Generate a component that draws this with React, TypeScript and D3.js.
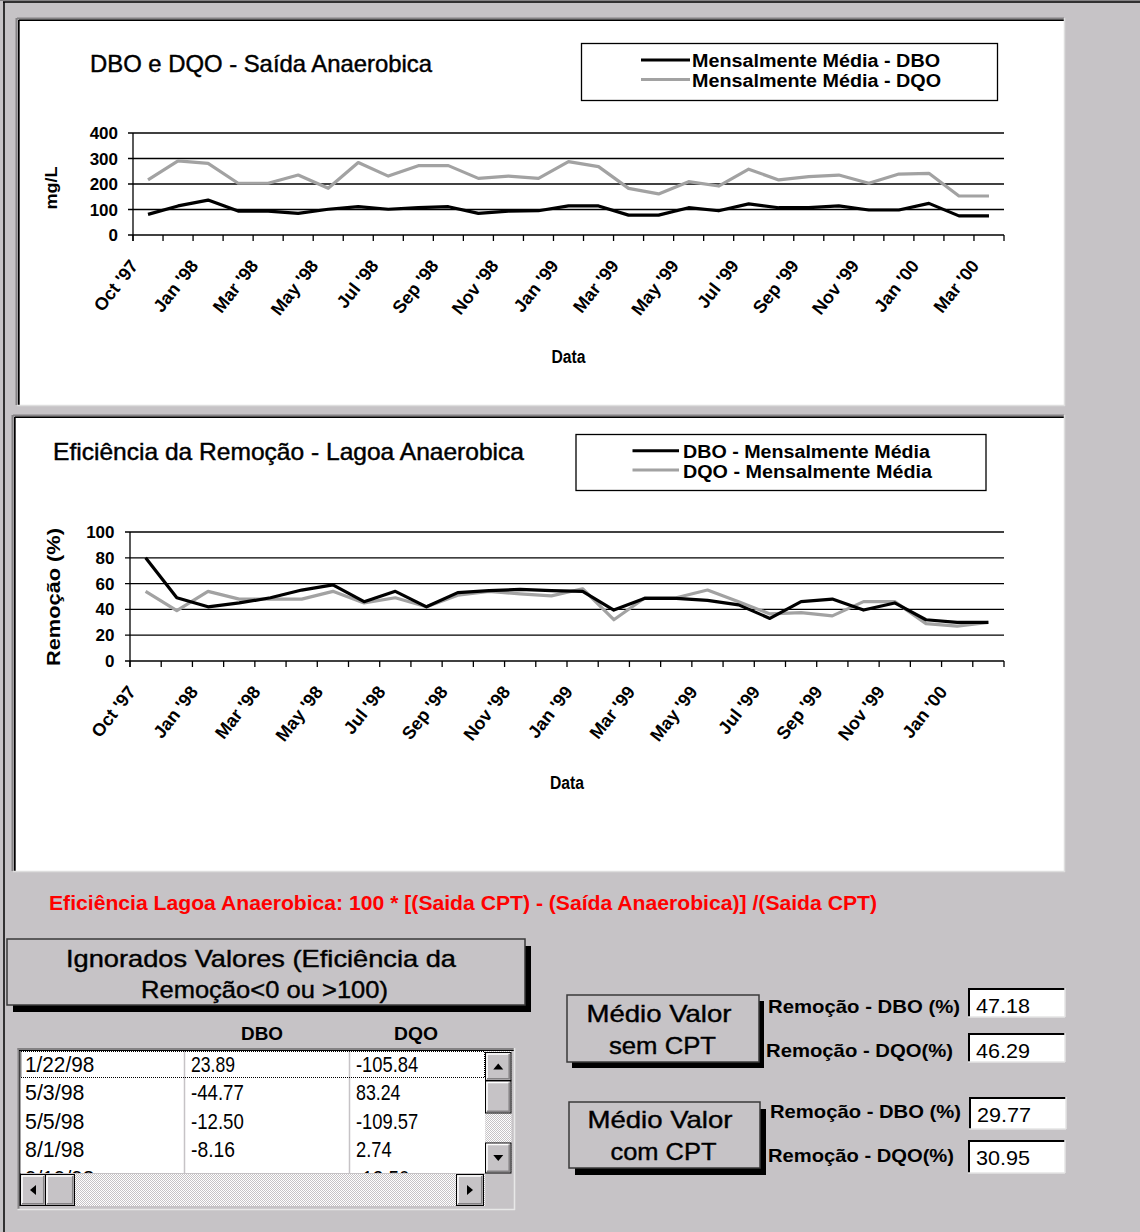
import React from "react"
import { scaleBand, scaleLinear, line } from "d3"

// categories (months), first chart has one more month than the second
const months = ["Oct '97", "Dec '97", "Jan '98", "Feb '98", "Mar '98", "Apr '98", "May '98", "Jun '98", "Jul '98", "Aug '98", "Sep '98", "Oct '98", "Nov '98", "Dec '98", "Jan '99", "Feb '99", "Mar '99", "Apr '99", "May '99", "Jun '99", "Jul '99", "Aug '99", "Sep '99", "Oct '99", "Nov '99", "Dec '99", "Jan '00", "Feb '00", "Mar '00"]
const effMonths = months.slice(0, 28)

// DBO e DQO - Saída Anaerobica (mg/L)
const saidaDbo = [81, 114, 137, 94, 94, 85, 101, 111, 101, 107, 111, 85, 94, 95, 114, 114, 78, 78, 107, 95, 122, 107, 107, 114, 98, 98, 124, 75, 75]
const saidaDqo = [216, 291, 281, 203, 203, 235, 183, 284, 231, 272, 272, 222, 231, 222, 288, 268, 183, 161, 209, 192, 258, 216, 229, 235, 203, 239, 242, 153, 153]

// Eficiência da Remoção (%)
const effDbo = [80, 49, 42, 45, 49, 55, 59, 46, 54, 42, 53, 54.5, 55.5, 54.5, 54, 39.5, 48.6, 48.6, 47, 43.5, 33, 46, 48, 39.5, 45, 32, 30, 30]
const effDqo = [54, 39, 54, 48, 48, 48, 54, 45, 49, 42, 51, 54, 52, 50.5, 56, 32, 49, 49, 55, 46, 36.5, 37.5, 35, 46, 46, 29, 27, 30]

const saidaTicks = [0, 100, 200, 300, 400]
const effTicks = [0, 20, 40, 60, 80, 100]

// ignored values table
const ignDates = ["1/22/98", "5/3/98", "5/5/98", "8/1/98", "9/19/98"]
const ignDbo = ["23.89", "-44.77", "-12.50", "-8.16", ""]
const ignDqo = ["-105.84", "83.24", "-109.57", "2.74", "-12.50"]

const mediaSem = ["47.18", "46.29"]
const mediaCom = ["29.77", "30.95"]

const BG = "#c6c3c6"
const GRAY_LINE = "#a2a2a2"
const FONT = "'Liberation Sans', Arial, sans-serif"

const Chart = ({ cats, dbo, dqo, yMax, ticks, left, right, top, bottom, yTitle, tickRight }) => {
	const x = scaleBand().domain(cats).range([left, right])
	const bw = x.bandwidth()
	const y = scaleLinear().domain([0, yMax]).range([bottom, top])
	const gen = line<number>()
		.x((d, i) => x(cats[i]) + bw / 2)
		.y(d => y(d))
	const edges = cats.map(c => x(c)).concat([right])
	return (
		<g fontFamily={FONT}>
			{ticks.map(t => (
				<g key={t}>
					<line x1={left - 5} x2={right} y1={y(t)} y2={y(t)} stroke="#000" strokeWidth={1.3} />
					<text x={tickRight} y={y(t) + 6} textAnchor="end" fontWeight="bold" fontSize={17}>{t}</text>
				</g>
			))}
			<line x1={left} x2={left} y1={top} y2={bottom + 6} stroke="#000" strokeWidth={1.3} />
			{edges.map((e, i) => (
				<line key={i} x1={e} x2={e} y1={bottom} y2={bottom + 6} stroke="#000" strokeWidth={1.3} />
			))}
			{cats.map((c, i) => i % 2 === 0 ? (
				<text key={c} transform={`translate(${x(c) + bw / 2 - 9},${bottom + 31}) rotate(-52)`} textAnchor="end" fontWeight="bold" fontSize={18}>{c}</text>
			) : null)}
			<path d={gen(dqo)} fill="none" stroke={GRAY_LINE} strokeWidth={3.2} strokeLinejoin="round" />
			<path d={gen(dbo)} fill="none" stroke="#000" strokeWidth={3.2} strokeLinejoin="round" />
			<text x={(left + right) / 2} y={bottom + 128} textAnchor="middle" fontWeight="bold" fontSize={18} textLength={34} lengthAdjust="spacingAndGlyphs">Data</text>
			{yTitle}
		</g>
	)
}

const Sunken = ({ x, y, w, h }) => (
	<g>
		<rect x={x} y={y} width={w} height={h} fill="#fff" />
		<line x1={x - 3} x2={x + w} y1={y - 2.5} y2={y - 2.5} stroke="#848284" strokeWidth={2} />
		<line x1={x - 3.5} x2={x - 3.5} y1={y - 3} y2={y + h} stroke="#848284" strokeWidth={2} />
		<line x1={x - 1} x2={x + w} y1={y - 0.8} y2={y - 0.8} stroke="#000" strokeWidth={1.6} />
		<line x1={x - 1.2} x2={x - 1.2} y1={y - 1} y2={y + h} stroke="#000" strokeWidth={1.6} />
		<line x1={x - 3} x2={x + w + 1} y1={y + h + 0.5} y2={y + h + 0.5} stroke="#dedede" strokeWidth={1.5} />
		<line x1={x + w + 0.5} x2={x + w + 0.5} y1={y - 3} y2={y + h + 1} stroke="#dedede" strokeWidth={1.5} />
	</g>
)

const ShadowButton = ({ x, y, w, h, dx, dy, lines, cx, fontSize }) => (
	<g fontFamily={FONT}>
		<rect x={x + dx} y={y + dy} width={w} height={h} fill="#000" />
		<rect x={x} y={y} width={w} height={h} fill={BG} stroke="#3a3a3a" strokeWidth={1.5} />
		{lines.map((l, i) => (
			<text key={i} x={cx + l.dx} y={l.y} textAnchor="middle" fontSize={fontSize} stroke="#000" strokeWidth={0.4} textLength={l.len} lengthAdjust="spacingAndGlyphs">{l.t}</text>
		))}
	</g>
)

const ValueBox = ({ x, y, w, h, value }) => (
	<g fontFamily={FONT}>
		<rect x={x} y={y} width={w} height={h} fill="#fff" />
		<line x1={x} x2={x + w} y1={y + 1} y2={y + 1} stroke="#000" strokeWidth={2} />
		<line x1={x + 1} x2={x + 1} y1={y} y2={y + h} stroke="#000" strokeWidth={2} />
		<line x1={x} x2={x + w} y1={y + h} y2={y + h} stroke="#e4e4e4" strokeWidth={1.5} />
		<line x1={x + w} x2={x + w} y1={y} y2={y + h} stroke="#e4e4e4" strokeWidth={1.5} />
		<text x={x + 8} y={y + 24.5} fontSize={21} textLength={value.length * 10.8} lengthAdjust="spacingAndGlyphs">{value}</text>
	</g>
)

const ScrollBtn = ({ x, y, w, h, dir }) => {
	const cx = x + w / 2
	const cy = y + h / 2
	const s = 5
	const pts = {
		up: `${cx - s},${cy + 3} ${cx + s},${cy + 3} ${cx},${cy - 3}`,
		down: `${cx - s},${cy - 3} ${cx + s},${cy - 3} ${cx},${cy + 3}`,
		left: `${cx + 3},${cy - s} ${cx + 3},${cy + s} ${cx - 3},${cy}`,
		right: `${cx - 3},${cy - s} ${cx - 3},${cy + s} ${cx + 3},${cy}`,
	}
	return (
		<g>
			<rect x={x} y={y} width={w} height={h} fill={BG} stroke="#000" strokeWidth={1} />
			<polyline points={`${x + 1.5},${y + h - 1.5} ${x + 1.5},${y + 1.5} ${x + w - 1.5},${y + 1.5}`} fill="none" stroke="#fff" strokeWidth={1.5} />
			<polyline points={`${x + 1.5},${y + h - 1.8} ${x + w - 1.8},${y + h - 1.8} ${x + w - 1.8},${y + 1.5}`} fill="none" stroke="#848284" strokeWidth={1.5} />
			{dir ? <polygon points={pts[dir]} fill="#000" /> : null}
		</g>
	)
}

export default function App() {
	const rowBase = [1071.7, 1100, 1128.5, 1157, 1185.5]
	return (
		<svg width={1140} height={1232} style={{ position: "absolute", left: 0, top: 0 }}>
			<defs>
				<pattern id="hatch" width={2} height={2} patternUnits="userSpaceOnUse">
					<rect width={2} height={2} fill="#fff" />
					<rect width={1} height={1} fill={BG} />
					<rect x={1} y={1} width={1} height={1} fill={BG} />
				</pattern>
				<clipPath id="listClip">
					<rect x={20} y={1050} width={465} height={123} />
				</clipPath>
			</defs>
			<rect width={1140} height={1232} fill={BG} />
			{/* window border */}
			<line x1={0} x2={1140} y1={0.5} y2={0.5} stroke="#848284" strokeWidth={1} />
			<line x1={3} x2={1140} y1={2} y2={2} stroke="#000" strokeWidth={1.5} />
			<line x1={4} x2={4} y1={2} y2={1232} stroke="#000" strokeWidth={1.5} />

			{/* panel 1 */}
			<Sunken x={20} y={21} w={1044} h={384} />
			<text x={90} y={72} fontFamily={FONT} fontSize={24} stroke="#000" strokeWidth={0.45} textLength={342} lengthAdjust="spacingAndGlyphs">DBO e DQO - Saída Anaerobica</text>
			<rect x={581.5} y={43.5} width={416} height={57} fill="#fff" stroke="#000" strokeWidth={1.3} />
			<line x1={641} x2={690} y1={60} y2={60} stroke="#000" strokeWidth={3} />
			<line x1={641} x2={690} y1={79.5} y2={79.5} stroke={GRAY_LINE} strokeWidth={3} />
			<text x={692} y={66.7} fontFamily={FONT} fontWeight="bold" fontSize={18} textLength={248} lengthAdjust="spacingAndGlyphs">Mensalmente Média - DBO</text>
			<text x={692} y={87.3} fontFamily={FONT} fontWeight="bold" fontSize={18} textLength={249} lengthAdjust="spacingAndGlyphs">Mensalmente Média - DQO</text>
			<Chart cats={months} dbo={saidaDbo} dqo={saidaDqo} yMax={400} ticks={saidaTicks}
				left={133} right={1004} top={133} bottom={235} tickRight={118}
				yTitle={<text transform="translate(57,188) rotate(-90)" textAnchor="middle" fontWeight="bold" fontSize={17} textLength={43} lengthAdjust="spacingAndGlyphs">mg/L</text>} />

			{/* panel 2 */}
			<Sunken x={16} y={418} w={1048} h={453} />
			<text x={53} y={460} fontFamily={FONT} fontSize={24} stroke="#000" strokeWidth={0.45} textLength={471} lengthAdjust="spacingAndGlyphs">Eficiência da Remoção - Lagoa Anaerobica</text>
			<rect x={576} y={434.5} width={410} height={56} fill="#fff" stroke="#000" strokeWidth={1.3} />
			<line x1={632.5} x2={679} y1={450.7} y2={450.7} stroke="#000" strokeWidth={3} />
			<line x1={632.5} x2={679} y1={470} y2={470} stroke={GRAY_LINE} strokeWidth={3} />
			<text x={683} y={458.3} fontFamily={FONT} fontWeight="bold" fontSize={18} textLength={247} lengthAdjust="spacingAndGlyphs">DBO - Mensalmente Média</text>
			<text x={683} y={478.3} fontFamily={FONT} fontWeight="bold" fontSize={18} textLength={249} lengthAdjust="spacingAndGlyphs">DQO - Mensalmente Média</text>
			<Chart cats={effMonths} dbo={effDbo} dqo={effDqo} yMax={100} ticks={effTicks}
				left={130} right={1004} top={532} bottom={661} tickRight={114.5}
				yTitle={<text transform="translate(60,597) rotate(-90)" textAnchor="middle" fontWeight="bold" fontSize={18} textLength={138} lengthAdjust="spacingAndGlyphs">Remoção (%)</text>} />

			{/* formula */}
			<text x={49} y={910} fill="#ff0000" fontFamily={FONT} fontWeight="bold" fontSize={20} textLength={828} lengthAdjust="spacingAndGlyphs">Eficiência Lagoa Anaerobica: 100 * [(Saida CPT) - (Saída Anaerobica)] /(Saida CPT)</text>

			{/* ignored values */}
			<ShadowButton x={7} y={939} w={518} h={66} dx={6} dy={7} cx={262} fontSize={24}
				lines={[{ t: "Ignorados Valores (Eficiência da", y: 966.7, len: 390, dx: -1 }, { t: "Remoção<0 ou >100)", y: 998, len: 247, dx: 2.5 }]} />
			<g fontFamily={FONT} fontWeight="bold" fontSize={19} textAnchor="middle">
				<text x={262} y={1040} textLength={42} lengthAdjust="spacingAndGlyphs">DBO</text>
				<text x={416} y={1040} textLength={44} lengthAdjust="spacingAndGlyphs">DQO</text>
			</g>
			<g>
				<rect x={17.5} y={1048} width={497} height={162} fill={BG} />
				<line x1={17.5} x2={514} y1={1049} y2={1049} stroke="#848284" strokeWidth={2} />
				<line x1={18.5} x2={18.5} y1={1048} y2={1209} stroke="#848284" strokeWidth={2} />
				<line x1={19} x2={514} y1={1050.5} y2={1050.5} stroke="#000" strokeWidth={1.2} />
				<line x1={20} x2={20} y1={1050} y2={1206} stroke="#000" strokeWidth={1.2} />
				<line x1={17.5} x2={515} y1={1209.5} y2={1209.5} stroke="#e8e8e8" strokeWidth={1.5} />
				<line x1={514.5} x2={514.5} y1={1048} y2={1210} stroke="#e8e8e8" strokeWidth={1.5} />
				<rect x={20.5} y={1051} width={465} height={122} fill="#fff" />
				<line x1={184.5} x2={184.5} y1={1051} y2={1173} stroke="#c6c3c6" strokeWidth={1.5} />
				<line x1={349.5} x2={349.5} y1={1051} y2={1173} stroke="#c6c3c6" strokeWidth={1.5} />
				<g clipPath="url(#listClip)" fontFamily={FONT} fontSize={22}>
					{ignDates.map((d, i) => (
						<g key={d}>
							<text x={25} y={rowBase[i]} textLength={d.length * 9.9} lengthAdjust="spacingAndGlyphs">{d}</text>
							{ignDbo[i] ? <text x={191} y={rowBase[i]} textLength={ignDbo[i].length * 8.8} lengthAdjust="spacingAndGlyphs">{ignDbo[i]}</text> : null}
							<text x={356} y={rowBase[i]} textLength={ignDqo[i].length * 8.9} lengthAdjust="spacingAndGlyphs">{ignDqo[i]}</text>
						</g>
					))}
				</g>
				<rect x={21} y={1051.5} width={463.5} height={26} fill="none" stroke="#000" strokeWidth={1} strokeDasharray="1,1" />
				{/* vertical scrollbar */}
				<rect x={485.5} y={1051} width={26} height={122} fill="url(#hatch)" />
				<ScrollBtn x={485.5} y={1052.5} w={25.5} h={28} dir="up" />
				<ScrollBtn x={485.5} y={1081} w={25.5} h={32} />
				<ScrollBtn x={485.5} y={1143} w={25.5} h={30} dir="down" />
				{/* horizontal scrollbar */}
				<rect x={20.5} y={1174} width={465} height={32} fill="url(#hatch)" />
				<ScrollBtn x={20.5} y={1174.5} w={25} h={31} dir="left" />
				<ScrollBtn x={45.5} y={1174.5} w={29} h={31} />
				<ScrollBtn x={456.5} y={1174.5} w={27} h={31} dir="right" />
				<rect x={485.5} y={1174} width={26} height={33} fill={BG} />
			</g>

			{/* averages */}
			<ShadowButton x={567} y={995} w={192} h={67} dx={5} dy={6} cx={659} fontSize={24}
				lines={[{ t: "Médio Valor", y: 1021.7, len: 145, dx: 0 }, { t: "sem CPT", y: 1054, len: 107, dx: 3.5 }]} />
			<ShadowButton x={569} y={1102} w={191} h={66} dx={6} dy={7} cx={660} fontSize={24}
				lines={[{ t: "Médio Valor", y: 1128, len: 145, dx: 0 }, { t: "com CPT", y: 1160, len: 106, dx: 3.5 }]} />
			<g fontFamily={FONT} fontWeight="bold" fontSize={19}>
				<text x={768} y={1012.7} textLength={192} lengthAdjust="spacingAndGlyphs">Remoção - DBO (%)</text>
				<text x={766} y={1057} textLength={187} lengthAdjust="spacingAndGlyphs">Remoção - DQO(%)</text>
				<text x={770} y={1118} textLength={191} lengthAdjust="spacingAndGlyphs">Remoção - DBO (%)</text>
				<text x={768} y={1162} textLength={186} lengthAdjust="spacingAndGlyphs">Remoção - DQO(%)</text>
			</g>
			<ValueBox x={968} y={988} w={97} h={29} value={mediaSem[0]} />
			<ValueBox x={968} y={1033} w={97} h={29} value={mediaSem[1]} />
			<ValueBox x={969} y={1097} w={97} h={32} value={mediaCom[0]} />
			<ValueBox x={968} y={1140} w={97} h={33} value={mediaCom[1]} />
		</svg>
	)
}
